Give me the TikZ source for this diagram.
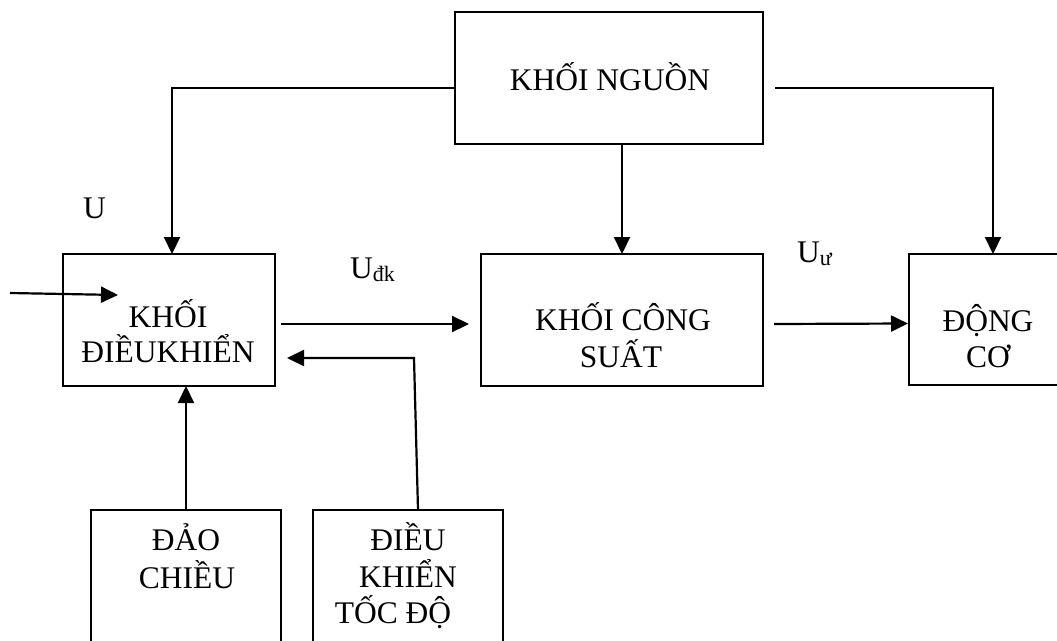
\documentclass[tikz,border=0pt]{standalone}
\usepackage{fontspec}
\setmainfont{Liberation Serif}
\usetikzlibrary{arrows.meta}
\begin{document}
\begin{tikzpicture}[x=1pt,y=-1pt,
  box/.style={draw, line width=1.7pt, inner sep=0pt, outer sep=0pt, anchor=north west},
  txt/.style={anchor=base, inner sep=0pt, font=\fontsize{31.5}{36}\selectfont},
  lbl/.style={anchor=base west, inner sep=0pt, font=\fontsize{31.5}{36}\selectfont},
  arr/.style={line width=2.2pt, -{Triangle[length=17pt,width=16pt]}},
  ln/.style={line width=2.2pt}]
\path[use as bounding box] (0,0) rectangle (1057,640);
\clip (0,0) rectangle (1057,640);
% boxes
\node[box, minimum width=308pt, minimum height=132pt] (nguon) at (455,12) {};
\node[box, minimum width=212pt, minimum height=132pt] (dk) at (63,254) {};
\node[box, minimum width=282pt, minimum height=132pt] (cs) at (481,254) {};
\node[box, minimum width=168pt, minimum height=131pt] (dc) at (909,254) {};
\node[box, minimum width=190pt, minimum height=160pt] (dao) at (91,510) {};
\node[box, minimum width=190pt, minimum height=160pt] (tocdo) at (313,510) {};
% texts
\node[txt] (tnguon) at (610,90) {KHỐI NGUỒN};
\node[txt] (tdk1) at (168,327) {KHỐI};
\node[txt] (tdk2) at (168,362) {ĐIỀUKHIỂN};
\node[txt] (tcs1) at (623,330) {KHỐI CÔNG};
\node[txt] (tcs2) at (621,367) {SUẤT};
\node[txt] (tdc1) at (988,331) {ĐỘNG};
\node[txt] (tdc2) at (988,367) {CƠ};
\node[txt] (tdao1) at (186,550) {ĐẢO};
\node[txt] (tdao2) at (187,588) {CHIỀU};
\node[txt] (ttd1) at (408,550) {ĐIỀU};
\node[txt] (ttd2) at (408,587) {KHIỂN};
\node[txt] (ttd3) at (393,623) {TỐC ĐỘ};
% labels
\node[lbl] (lu) at (83,218) {U};
\node[lbl] (ludk) at (350,278) {U\raisebox{-3pt}{\fontsize{22}{22}\selectfont đk}};
\node[lbl] (luu) at (797,262) {U\raisebox{-3pt}{\fontsize{22}{22}\selectfont ư}};
% coordinates
\coordinate (inA) at (10,293);
\coordinate (inB) at (118,295);
\coordinate (fbk) at (414,358);
% connectors
\draw[arr] ([shift={(0,10)}]nguon.west) -| ([xshift=3pt]dk.north);
\draw[arr] (cs.north |- nguon.south) -- (cs.north);
\draw[arr] ([shift={(12,10)}]nguon.east) -| (dc.north);
\draw[arr] (inA) -- (inB);
\draw[arr] ([shift={(6,4)}]dk.east) -- ([shift={(-12,4)}]cs.west);
\draw[arr] ([shift={(11,4)}]cs.east) -- ([shift={(-1,4)}]dc.west);
\draw[arr] ([xshift=10pt]tocdo.north) -- (fbk) -- ([shift={(12,38)}]dk.east);
\draw[arr] (dao.north) -- (dao.north |- dk.south);
\end{tikzpicture}
\end{document}
